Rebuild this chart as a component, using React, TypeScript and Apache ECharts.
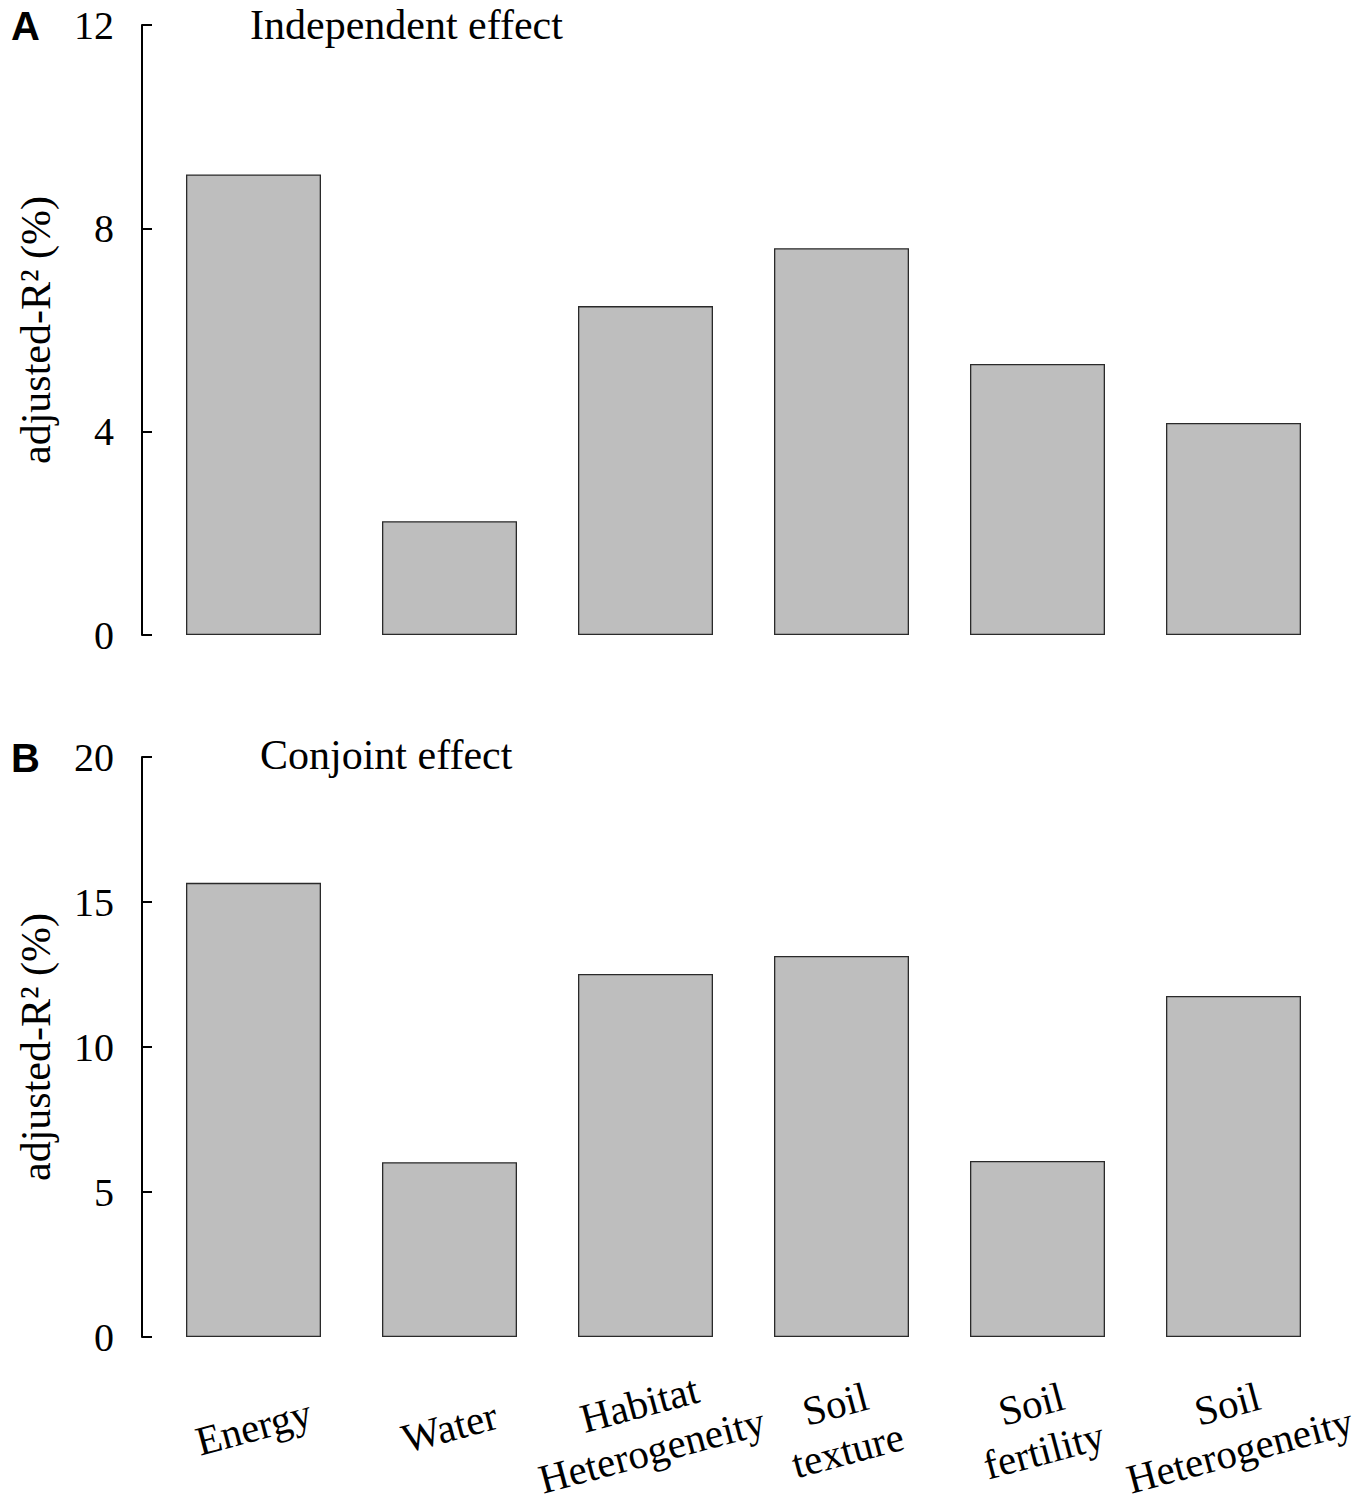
import React, { useEffect, useRef } from "react";
import * as echarts from "echarts";

const categories = [
  "Energy",
  "Water",
  "Habitat\nHeterogeneity",
  "Soil\ntexture",
  "Soil\nfertility",
  "Soil\nHeterogeneity",
];
const independentEffect = [9.06, 2.24, 6.47, 7.61, 5.33, 4.17];
const conjointEffect = [15.66, 6.03, 12.52, 13.14, 6.07, 11.76];
const panelTitles = ["Independent effect", "Conjoint effect"];
const panelLetters = ["A", "B"];
const yAxisTitle = "adjusted-R\u00B2 (%)";

const SERIF = "'Liberation Serif', 'Times New Roman', serif";
const SANS = "'Liberation Sans', Arial, sans-serif";

export default function App() {
  const ref = useRef<HTMLDivElement>(null);
  useEffect(() => {
    document.body.style.margin = "0";
    const chart = echarts.init(ref.current!, null, { renderer: "svg" });
    const grids = [
      { left: 155.5, width: 1176, top: 25, height: 610, outerBoundsMode: "none", containLabel: false },
      { left: 155.5, width: 1176, top: 757, height: 580, outerBoundsMode: "none", containLabel: false },
    ];
    const yCfg = [
      { max: 12, interval: 4 },
      { max: 20, interval: 5 },
    ];
    const option: any = {
      animation: false,
      backgroundColor: "#ffffff",
      title: [
        {
          text: panelLetters[0],
          left: 6,
          top: 1,
          textStyle: { fontFamily: SANS, fontWeight: "bold", fontSize: 40, color: "#000" },
        },
        {
          text: panelTitles[0],
          left: 245,
          top: -1,
          textStyle: { fontFamily: SERIF, fontWeight: "normal", fontSize: 42, color: "#000" },
        },
        {
          text: panelLetters[1],
          left: 6,
          top: 733,
          textStyle: { fontFamily: SANS, fontWeight: "bold", fontSize: 40, color: "#000" },
        },
        {
          text: panelTitles[1],
          left: 255,
          top: 729,
          textStyle: { fontFamily: SERIF, fontWeight: "normal", fontSize: 42, color: "#000" },
        },
      ],
      grid: grids,
      xAxis: [0, 1].map((i) => ({
        type: "category",
        gridIndex: i,
        data: categories,
        axisLine: { show: false },
        axisTick: { show: false },
        axisLabel: {
          show: i === 1,
          interval: 0,
          rotate: 15,
          align: "center",
          verticalAlign: "middle",
          margin: 90,
          fontFamily: SERIF,
          fontSize: 41,
          lineHeight: 48,
          color: "#000",
        },
      })),
      yAxis: [0, 1].map((i) => ({
        type: "value",
        gridIndex: i,
        min: 0,
        max: yCfg[i].max,
        interval: yCfg[i].interval,
        offset: 13.5,
        splitLine: { show: false },
        axisLine: { show: true, lineStyle: { color: "#000", width: 2 } },
        axisTick: { show: true, inside: true, length: 10, lineStyle: { color: "#000", width: 2 } },
        axisLabel: {
          margin: 28,
          fontFamily: SERIF,
          fontSize: 40,
          color: "#000",
        },
        name: yAxisTitle,
        nameLocation: "middle",
        nameRotate: 90,
        nameGap: 85,
        nameTextStyle: { fontFamily: SERIF, fontSize: 42, color: "#000" },
      })),
      series: [
        {
          type: "bar",
          xAxisIndex: 0,
          yAxisIndex: 0,
          data: independentEffect,
          barWidth: 135,
          itemStyle: { color: "#bebebe", borderColor: "#2a2a2a", borderWidth: 1.3 },
        },
        {
          type: "bar",
          xAxisIndex: 1,
          yAxisIndex: 1,
          data: conjointEffect,
          barWidth: 135,
          itemStyle: { color: "#bebebe", borderColor: "#2a2a2a", borderWidth: 1.3 },
        },
      ],
    };
    chart.setOption(option);
    return () => chart.dispose();
  }, []);
  return <div ref={ref} style={{ width: 1365, height: 1510 }} />;
}
